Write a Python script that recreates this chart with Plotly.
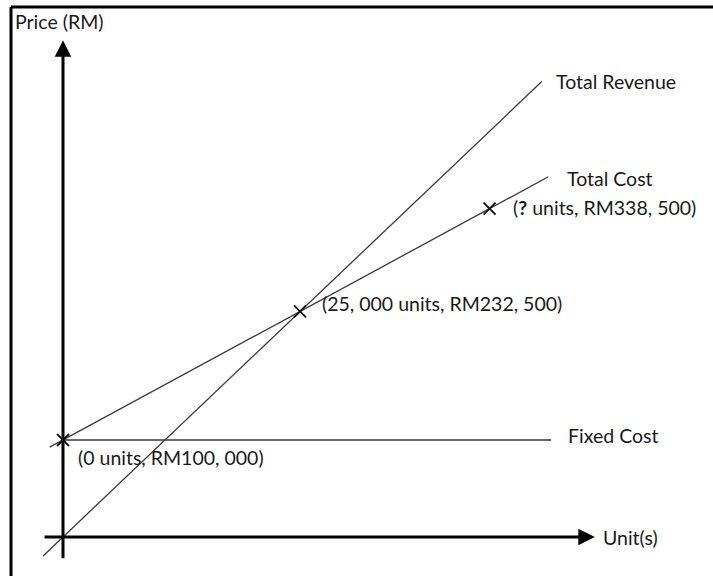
import plotly.graph_objects as go

# ---- data ----
units_tr = [-2100, 0, 25000, 50500]
total_revenue = [-19500, 0, 232500, 469500]

units_tc = [-1400, 0, 25000, 45000, 51200]
total_cost = [92600, 100000, 232500, 338500, 371400]

units_fc = [0, 51500]
fixed_cost = [100000, 100000]

point_units = [0, 25000, 45000]
point_price = [100000, 232500, 338500]

# axis extents (data units)
x_axis_start, x_axis_tip = -2100, 56100
y_axis_start, y_axis_tip = -23500, 512000

W, H = 713, 576
PX_X = 9.48 / 1000   # px per unit
PX_Y = 0.97 / 1000   # px per RM
ORIG_PX = (63, 537)

x_range = [-ORIG_PX[0] / PX_X, (W - ORIG_PX[0]) / PX_X]
y_range = [-(H - ORIG_PX[1]) / PX_Y, ORIG_PX[1] / PX_Y]

FONT = "Lato"
LINE_C = "#3a3a3a"

fig = go.Figure()
fig.add_trace(go.Scatter(x=units_tr, y=total_revenue, mode="lines",
                         line=dict(color=LINE_C, width=1.3), hoverinfo="skip"))
fig.add_trace(go.Scatter(x=units_tc, y=total_cost, mode="lines",
                         line=dict(color=LINE_C, width=1.3), hoverinfo="skip"))
fig.add_trace(go.Scatter(x=units_fc, y=fixed_cost, mode="lines",
                         line=dict(color=LINE_C, width=1.3), hoverinfo="skip"))
fig.add_trace(go.Scatter(x=point_units, y=point_price, mode="markers",
                         marker=dict(symbol="x-thin", size=12,
                                     line=dict(color="#111", width=1.8)),
                         hoverinfo="skip"))

annotations = []
# axes with arrows
annotations.append(dict(x=0, y=y_axis_tip, ax=0, ay=y_axis_start,
                        xref="x", yref="y", axref="x", ayref="y",
                        showarrow=True, arrowhead=2, arrowsize=1.1,
                        arrowwidth=3, arrowcolor="black", text=""))
annotations.append(dict(x=x_axis_tip, y=0, ax=x_axis_start, ay=0,
                        xref="x", yref="y", axref="x", ayref="y",
                        showarrow=True, arrowhead=2, arrowsize=1.1,
                        arrowwidth=3, arrowcolor="black", text=""))


def label(text, px, py, size=19.5):
    annotations.append(dict(text=text, x=px / W, y=1 - py / H,
                            xref="paper", yref="paper", xanchor="left",
                            yanchor="middle", showarrow=False,
                            font=dict(family=FONT, size=size, color="#1a1a1a")))


label("Price (RM)", 13, 22)
label("Total Revenue", 554, 81)
label("Total Cost", 565, 178)
label("(<b>?</b> units, RM338, 500)", 511, 207)
label("(25, 000 units, RM232, 500)", 320, 303)
label("(0 units, RM100, 000)", 76, 457)
label("Fixed Cost", 566, 435)
label("Unit(s)", 601, 537)

shapes = [
    dict(type="line", xref="paper", yref="paper",
         x0=11 / W, x1=11 / W, y0=0, y1=1 - 7 / H,
         line=dict(color="black", width=3)),
    dict(type="line", xref="paper", yref="paper",
         x0=11 / W, x1=1, y0=1 - 7 / H, y1=1 - 7 / H,
         line=dict(color="black", width=3)),
]

fig.update_layout(
    width=W, height=H,
    margin=dict(l=0, r=0, t=0, b=0),
    paper_bgcolor="white", plot_bgcolor="white",
    showlegend=False,
    xaxis=dict(range=x_range, visible=False, fixedrange=True),
    yaxis=dict(range=y_range, visible=False, fixedrange=True),
    annotations=annotations,
    shapes=shapes,
)

fig.write_html("out.html", config={"displayModeBar": False})
